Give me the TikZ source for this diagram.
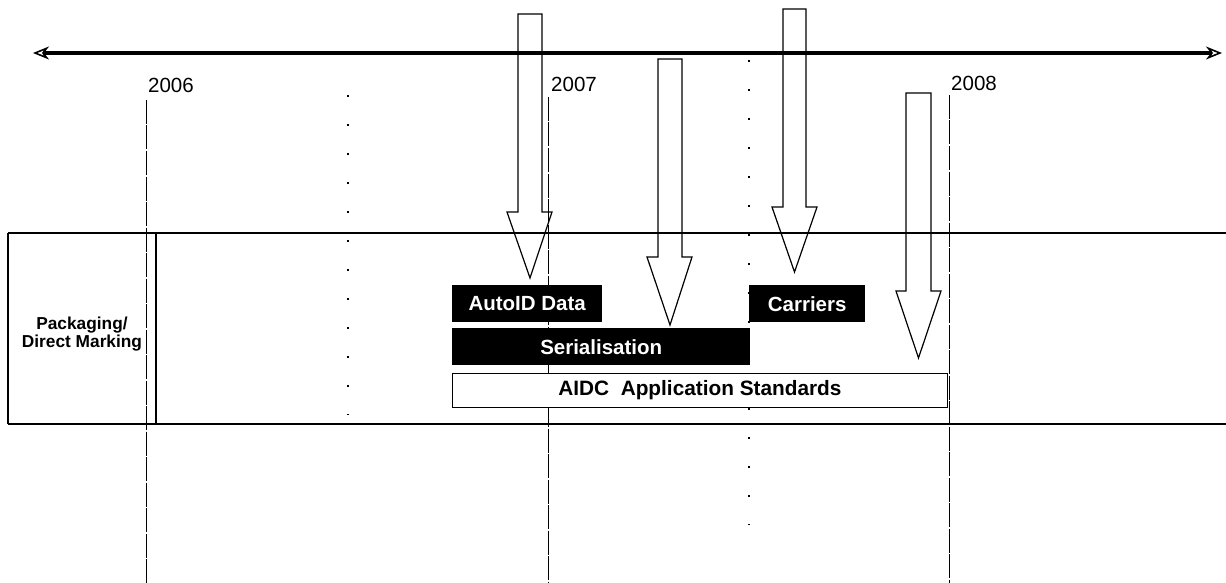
\documentclass[tikz,border=0pt]{standalone}
\usepackage{fontspec}
\setmainfont{Liberation Sans}
\usetikzlibrary{arrows.meta}
\begin{document}
\begin{tikzpicture}[x=1pt,y=-1pt,
  timeline/.style={line width=3.4pt,
    {Stealth[open,length=16pt,width=13pt,inset=5pt,line width=1.6pt]}-{Stealth[open,length=16pt,width=13pt,inset=5pt,line width=1.6pt]}},
  yearline/.style={line width=0.9pt, dash pattern=on 24pt off 1.5pt},
  guide/.style={line width=1.1pt, dash pattern=on 2pt off 27pt},
  bandline/.style={line width=1.3pt},
  year/.style={font=\fontsize{20.5}{24}\selectfont, inner sep=0pt, anchor=base west},
  bar/.style={fill=black, text=white, inner sep=0pt, anchor=north west,
    font=\fontsize{20.5}{24}\selectfont\bfseries},
  stdbox/.style={draw, line width=0.9pt, fill=white, inner sep=0pt, anchor=north west,
    font=\fontsize{20.8}{24}\selectfont\bfseries},
  rowlabel/.style={align=center, inner sep=0pt,
    font=\fontsize{17.3}{18.5}\selectfont\bfseries},
  bigarrow/.style={line width=1.2pt, line join=miter}]
\useasboundingbox (0,0) rectangle (1226,583);

% time axis
\coordinate (axisL) at (33,53);
\coordinate (axisR) at (1222,53);
\draw[timeline] (axisL) -- (axisR);

% year labels and year boundaries
\node[year] (y2006) at (148,93) {2006};
\node[year] (y2007) at (551,92) {2007};
\node[year] (y2008) at (951,91) {2008};
\coordinate (b2006top) at (146,100); \coordinate (b2006bot) at (146,583);
\coordinate (b2007top) at (548,97);  \coordinate (b2007bot) at (548,583);
\coordinate (b2008top) at (949,95);  \coordinate (b2008bot) at (949,583);
\draw[yearline] (b2006top) -- (b2006bot);
\draw[yearline] (b2007top) -- (b2007bot);
\draw[yearline] (b2008top) -- (b2008bot);

% half-year guides
\coordinate (h1top) at (348,95);  \coordinate (h1bot) at (348,415);
\coordinate (h2top) at (749,60);  \coordinate (h2bot) at (749,525);
\draw[guide] (h1top) -- (h1bot);
\draw[guide] (h2top) -- (h2bot);

% the band for the row
\coordinate (bandTL) at (8,233);   \coordinate (bandTR) at (1226,233);
\coordinate (bandBL) at (8,424);   \coordinate (bandBR) at (1226,424);
\draw[bandline] (bandTL) -- (bandTR);
\draw[bandline] (bandBL) -- (bandBR);
\draw[bandline] (bandTL) -- (bandBL);
\coordinate (labTop) at (156,233); \coordinate (labBot) at (156,424);
\draw[bandline] (labTop) -- (labBot);
\node[rowlabel] (row) at (82,334) {Packaging/\\Direct Marking};

% activities
\node[bar, minimum width=150pt, minimum height=37pt] (autoid) at (452,285) {AutoID Data};
\node[bar, minimum width=116pt, minimum height=37pt] (carriers) at (749,285) {Carriers};
\node[bar, minimum width=298pt, minimum height=37pt] (serial) at (452,328) {Serialisation};
\node[stdbox, minimum width=495pt, minimum height=34pt] (aidc) at (452,373) {AIDC\ \ Application Standards};

% milestone arrows
\draw[bigarrow] (518,14) -- (542,14) -- (542,212) -- (552,212) -- (530,278)
  -- (507,212) -- (518,212) -- cycle;
\draw[bigarrow] (658,59) -- (682,59) -- (682,257) -- (692,257) -- (670,325)
  -- (647,257) -- (658,257) -- cycle;
\draw[bigarrow] (783,9) -- (806,9) -- (806,207) -- (817,207) -- (794.5,272)
  -- (772,207) -- (783,207) -- cycle;
\draw[bigarrow] (906,93) -- (931,93) -- (931,291) -- (941,291) -- (918.5,358)
  -- (896,291) -- (906,291) -- cycle;
\end{tikzpicture}
\end{document}
